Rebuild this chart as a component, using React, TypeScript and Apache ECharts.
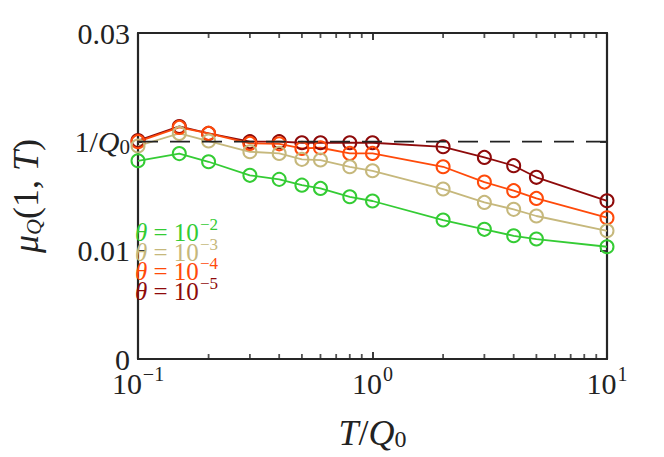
import React, { useEffect, useRef } from "react";
import * as echarts from "echarts";

const xValues = [0.1, 0.15, 0.2, 0.3, 0.4, 0.5, 0.6, 0.8, 1, 2, 3, 4, 5, 10];
const thetaM2 = [0.01824, 0.0189, 0.01815, 0.0169, 0.01653, 0.016, 0.0157, 0.01493, 0.01454, 0.01279, 0.01193, 0.01134, 0.01104, 0.01033];
const thetaM3 = [0.0196, 0.02076, 0.02006, 0.01907, 0.01892, 0.01837, 0.01831, 0.01769, 0.01732, 0.01564, 0.01441, 0.01377, 0.01316, 0.0118];
const thetaM4 = [0.02, 0.02131, 0.02076, 0.01984, 0.0198, 0.01938, 0.01944, 0.01892, 0.01892, 0.01769, 0.01628, 0.01549, 0.01478, 0.013];
const thetaM5 = [0.0201, 0.0214, 0.02076, 0.02, 0.02, 0.0199, 0.0199, 0.0199, 0.0199, 0.01953, 0.01855, 0.01779, 0.01672, 0.01456];
const thetaExponents = [-2, -3, -4, -5];
const seriesValues = [thetaM2, thetaM3, thetaM4, thetaM5];
const seriesColors = ["#34cc34", "#c6b87c", "#ff4a0a", "#8e0a0a"];
const refLevel = 0.02; // 1/Q0
const yTicks = [0, 0.01, 0.02, 0.03];
const decadeExponents = [-1, 0, 1];
const minorTickValues = [0.2, 0.3, 0.4, 0.5, 0.6, 0.7, 0.8, 0.9, 2, 3, 4, 5, 6, 7, 8, 9];

const FONT = "Liberation Serif";
const AXIS_COLOR = "#262626";
const TXT = "#222";

export default function App() {
  const ref = useRef<HTMLDivElement>(null);
  useEffect(() => {
    if (!ref.current) return;
    const chart = echarts.init(ref.current, null, { renderer: "svg" });

    const dataSeries: any[] = seriesValues
      .map((vals, i) => ({
        name: `θ = 10^${thetaExponents[i]}`,
        type: "line",
        xAxisIndex: 0,
        yAxisIndex: 0,
        data: xValues.map((x, j) => [x, vals[j]]),
        symbol: "circle",
        symbolSize: 13,
        showSymbol: true,
        lineStyle: { color: seriesColors[i], width: 1.8 },
        itemStyle: { color: "rgba(255,255,255,0)", borderColor: seriesColors[i], borderWidth: 2 },
        z: 2,
      }))
      .reverse();

    const tickStyle = { show: true, inside: true, length: 7, lineStyle: { color: AXIS_COLOR, width: 1.8 } };
    const lineStyle = { show: true, onZero: false, lineStyle: { color: AXIS_COLOR, width: 2.2 } };

    const minorTickSeries = (yVal: number, dir: number) => ({
      name: `minor${yVal}`,
      type: "scatter",
      xAxisIndex: 0,
      yAxisIndex: 0,
      silent: true,
      clip: false,
      symbol: "rect",
      symbolSize: [1.8, 5],
      symbolOffset: [0, dir * 2.5],
      itemStyle: { color: AXIS_COLOR },
      data: minorTickValues.map((v) => [v, yVal]),
      z: 10,
    });

    const legendTexts = thetaExponents.map((e, i) => {
      const c = seriesColors[i];
      return {
        type: "text",
        left: 135,
        top: 216 + i * 19.5,
        z: 10 + i,
        style: {
          text: `{i|θ}{n| = 10}{s|−${-e}}`,
          fill: c,
          rich: {
            i: { fontFamily: FONT, fontSize: 25, fontStyle: "italic", fill: c, lineHeight: 26, verticalAlign: "bottom" },
            n: { fontFamily: FONT, fontSize: 25, fill: c, lineHeight: 26, verticalAlign: "bottom" },
            s: { fontFamily: FONT, fontSize: 17, fill: c, verticalAlign: "top", padding: [0, 0, 12, 1] },
          },
        },
      };
    });

    const option: any = {
      animation: false,
      backgroundColor: "#ffffff",
      grid: { left: 120, right: 57, top: 33, bottom: 98, containLabel: false },
      xAxis: [
        {
          type: "log",
          logBase: 10,
          min: Math.pow(10, decadeExponents[0]),
          max: Math.pow(10, decadeExponents[decadeExponents.length - 1]),
          position: "bottom",
          name: "{i|T}{n|/}{i|Q}{sub|0}",
          nameLocation: "middle",
          nameGap: 56,
          nameTextStyle: {
            fontFamily: FONT,
            rich: {
              i: { fontFamily: FONT, fontSize: 36, fontStyle: "italic", color: TXT },
              n: { fontFamily: FONT, fontSize: 36, color: TXT },
              sub: { fontFamily: FONT, fontSize: 24, color: TXT, verticalAlign: "bottom", padding: [12, 0, 0, 0] },
            },
          },
          axisLine: lineStyle,
          axisTick: tickStyle,
          splitLine: { show: false },
          axisLabel: {
            margin: 5,
            formatter: (v: number) => {
              const e = Math.round(Math.log10(v));
              return `{b|10}{s|${e < 0 ? "−" + -e : e}}`;
            },
            rich: {
              b: { fontFamily: FONT, fontSize: 30, color: TXT, verticalAlign: "bottom", lineHeight: 32 },
              s: { fontFamily: FONT, fontSize: 20, color: TXT, verticalAlign: "top", padding: [0, 0, 14, 1] },
            },
          },
        },
        {
          type: "value",
          min: decadeExponents[0],
          max: decadeExponents[decadeExponents.length - 1],
          interval: 1,
          position: "top",
          axisLine: lineStyle,
          axisTick: tickStyle,
          axisLabel: { show: false },
          splitLine: { show: false },
        },
      ],
      yAxis: [
        {
          type: "value",
          min: 0,
          max: 0.03,
          interval: 0.01,
          position: "left",
          name: "{i|μ}{sub|Q}{n|(1, }{i|T}{n|)}",
          nameLocation: "middle",
          nameRotate: 90,
          nameGap: 94,
          nameTextStyle: {
            fontFamily: FONT,
            rich: {
              i: { fontFamily: FONT, fontSize: 36, fontStyle: "italic", color: TXT },
              n: { fontFamily: FONT, fontSize: 36, color: TXT },
              sub: { fontFamily: FONT, fontSize: 22, fontStyle: "italic", color: TXT, verticalAlign: "bottom", padding: [12, 0, 0, 0] },
            },
          },
          axisLine: lineStyle,
          axisTick: tickStyle,
          splitLine: { show: false },
          axisLabel: {
            margin: 8,
            formatter: (v: number) => {
              if (Math.abs(v - refLevel) < 1e-9) return "{n|1/}{i|Q}{sub|0}";
              if (v === 0) return "{n|0}";
              return `{n|${v.toFixed(2)}}`;
            },
            rich: {
              n: { fontFamily: FONT, fontSize: 30, color: TXT },
              i: { fontFamily: FONT, fontSize: 30, fontStyle: "italic", color: TXT },
              sub: { fontFamily: FONT, fontSize: 21, color: TXT, verticalAlign: "bottom", padding: [10, 0, 0, 0] },
            },
          },
        },
        {
          type: "value",
          min: 0,
          max: 0.03,
          interval: 0.01,
          position: "right",
          axisLine: lineStyle,
          axisTick: tickStyle,
          axisLabel: { show: false },
          splitLine: { show: false },
        },
      ],
      series: [
        minorTickSeries(yTicks[0], -1),
        minorTickSeries(yTicks[yTicks.length - 1], 1),
        ...dataSeries,
        {
          name: "ref",
          type: "line",
          xAxisIndex: 0,
          yAxisIndex: 0,
          data: [
            [xValues[0], refLevel],
            [xValues[xValues.length - 1], refLevel],
          ],
          symbol: "none",
          lineStyle: { color: TXT, width: 1.8, type: [20, 12] },
          z: 3,
        },
      ],
      graphic: legendTexts,
    };
    chart.setOption(option);
    return () => chart.dispose();
  }, []);
  return (
    <div
      ref={ref}
      style={{ position: "absolute", left: 0, top: 0, width: 664, height: 457 }}
    />
  );
}
